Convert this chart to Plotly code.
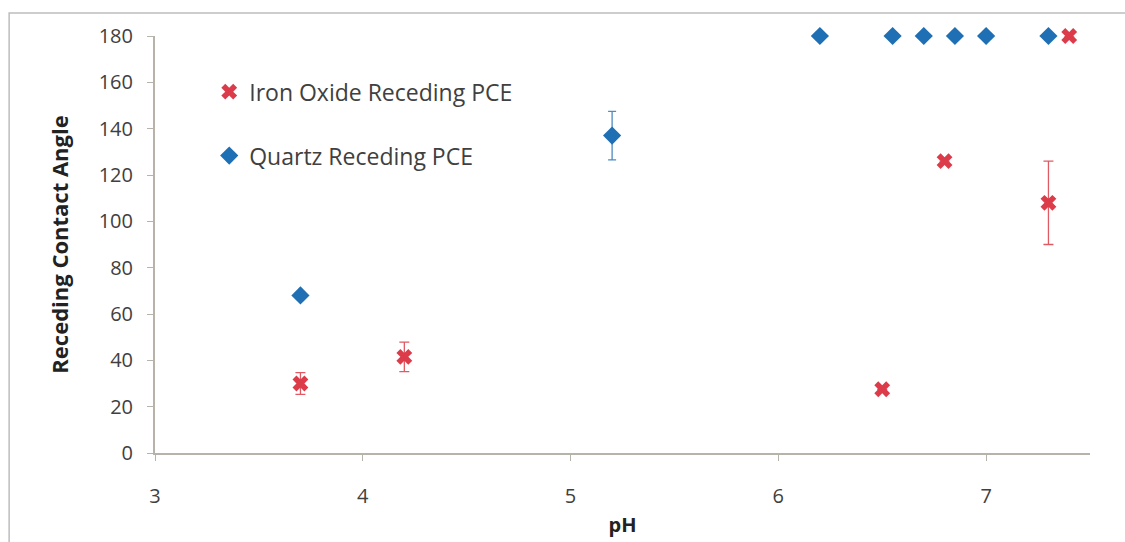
import plotly.graph_objects as go

# Iron oxide receding PCE contact angles
iron_ph = [3.7, 4.2, 6.5, 6.8, 7.3, 7.4]
iron_angle = [30, 41.5, 27.5, 126, 108, 180]
iron_err = [4.7, 6.4, 0, 0, 18, 0]

# Quartz receding PCE contact angles
quartz_ph = [3.7, 5.2, 6.2, 6.55, 6.7, 6.85, 7.0, 7.3]
quartz_angle = [68, 137, 180, 180, 180, 180, 180, 180]
quartz_err = [0, 10.5, 0, 0, 0, 0, 0, 0]

x_ticks = [3, 4, 5, 6, 7]
y_ticks = [0, 20, 40, 60, 80, 100, 120, 140, 160, 180]

FONT = "Open Sans"
TXT = "#404040"
AXIS = "#B8B3AA"

fig = go.Figure()

fig.add_trace(go.Scatter(
    x=iron_ph, y=iron_angle, mode="markers", name="Iron Oxide Receding PCE",
    legendgroup="iron", cliponaxis=False,
    marker=dict(symbol="x", size=14, color="#DC3B4A", line=dict(width=0)),
    error_y=dict(type="data", array=iron_err, visible=True,
                 color="#E05A63", thickness=1.3, width=5),
))

fig.add_trace(go.Scatter(
    x=quartz_ph, y=quartz_angle, mode="markers", name="Quartz Receding PCE",
    legendgroup="quartz", cliponaxis=False,
    marker=dict(symbol="diamond", size=14, color="#1F6FB4", line=dict(width=0)),
    error_y=dict(type="data", array=quartz_err, visible=True,
                 color="#4F8AC0", thickness=1.3, width=4),
))

# outer chart frame
fig.add_shape(type="rect", xref="paper", yref="paper",
              x0=-0.156, x1=1.2, y0=-0.4, y1=1.055,
              line=dict(color="#BDBDBD", width=1.5), layer="below")

fig.update_layout(
    width=1125, height=542,
    margin=dict(l=155, r=35, t=36, b=89),
    paper_bgcolor="white", plot_bgcolor="white",
    font=dict(family=FONT, size=20, color=TXT),
    showlegend=True,
    legend=dict(x=0.058, y=0.918, xanchor="left", yanchor="top",
                bgcolor="rgba(0,0,0,0)", font=dict(size=23, color=TXT),
                tracegroupgap=31, itemwidth=30),
    xaxis=dict(range=[3, 7.5], tickvals=x_ticks, showgrid=False, zeroline=False,
               showline=True, linecolor=AXIS, linewidth=2, automargin=False,
               tickfont=dict(size=20, color=TXT),
               ticks="outside", ticklen=6, tickcolor=AXIS, ticklabelstandoff=18,
               title=dict(text="<b>pH</b>", font=dict(size=20, color="#222"), standoff=10)),
    yaxis=dict(range=[0, 180], tickvals=y_ticks, showgrid=False, zeroline=False,
               showline=True, linecolor=AXIS, linewidth=2, automargin=False,
               tickfont=dict(size=20, color=TXT),
               ticks="outside", ticklen=6, tickcolor=AXIS, ticklabelstandoff=10,
               title=dict(text="<b>Receding Contact Angle</b>",
                          font=dict(size=22, color="#222"), standoff=24)),
)

fig.write_html("out.html")
